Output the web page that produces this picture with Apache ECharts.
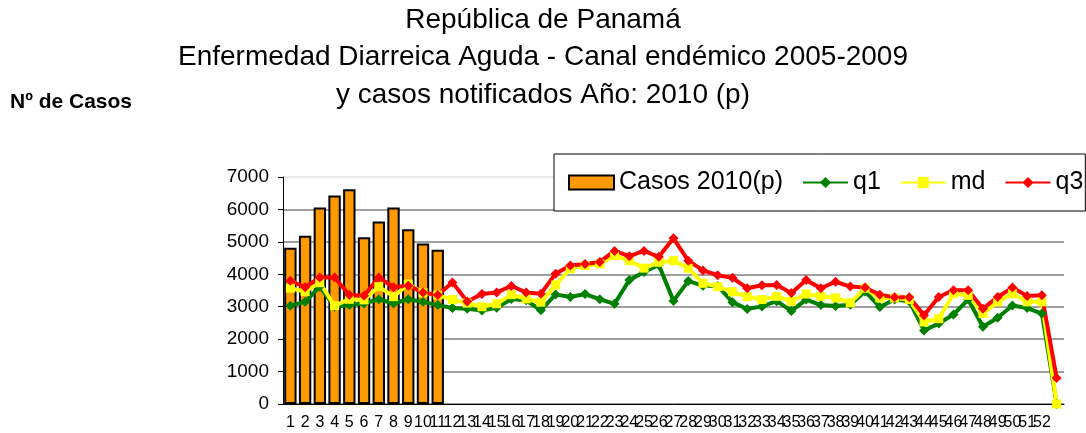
<!DOCTYPE html>
<html>
<head>
<meta charset="utf-8">
<script src="https://cdn.jsdelivr.net/npm/echarts@6/dist/echarts.min.js"></script>
<style>
  html, body { margin: 0; padding: 0; background: #fff; }
  #chart { width: 1086px; height: 433px; }
</style>
</head>
<body>
<div id="chart"></div>
<script>
// Epidemiological weeks (last slot has no label)
const weeks = ['1','2','3','4','5','6','7','8','9','10','11','12','13','14','15','16','17','18','19','20',
  '21','22','23','24','25','26','27','28','29','30','31','32','33','34','35','36','37','38','39','40',
  '41','42','43','44','45','46','47','48','49','50','51','52',''];

// Cases reported in 2010 (provisional), weeks 1-11
const casos2010 = [4820, 5190, 6060, 6430, 6620, 5140, 5630, 6060, 5390, 4950, 4760];

// Endemic channel 2005-2009
const q1 = [3030, 3150, 3620, 3000, 3050, 3100, 3230, 3100, 3230, 3150, 3050, 2960, 2940, 2880, 2970, 3240, 3200, 2890, 3380, 3300,
  3390, 3230, 3090, 3820, 4070, 4290, 3180, 3790, 3650, 3640, 3140, 2930, 3010, 3170, 2870, 3220, 3050, 3020, 3060, 3470,
  2990, 3220, 3170, 2270, 2480, 2760, 3220, 2380, 2660, 3040, 2960, 2790, 0];
const md = [3570, 3470, 3740, 3030, 3230, 3210, 3620, 3310, 3700, 3430, 3360, 3220, 3110, 3000, 3090, 3370, 3240, 3140, 3670, 4170,
  4270, 4320, 4580, 4420, 4190, 4370, 4420, 4190, 3720, 3620, 3460, 3310, 3220, 3320, 3170, 3390, 3320, 3270, 3120, 3570,
  3270, 3270, 3220, 2530, 2630, 3400, 3350, 2790, 3150, 3400, 3150, 3150, 0];
const q3 = [3800, 3600, 3900, 3900, 3360, 3340, 3900, 3600, 3650, 3440, 3360, 3750, 3160, 3390, 3440, 3640, 3440, 3400, 4020, 4270,
  4320, 4380, 4720, 4560, 4720, 4540, 5110, 4420, 4120, 3970, 3890, 3570, 3660, 3670, 3420, 3820, 3570, 3770, 3620, 3590,
  3370, 3290, 3290, 2740, 3300, 3510, 3510, 2940, 3300, 3590, 3330, 3350, 800];

const titleLines = [
  'República de Panamá',
  'Enfermedad Diarreica Aguda - Canal endémico 2005-2009',
  'y casos notificados Año: 2010 (p)'
];

const chart = echarts.init(document.getElementById('chart'));
const font = 'Liberation Sans, Arial, sans-serif';

const lineSeries = (name, data, color, symbol, size) => ({
  name: name,
  type: 'line',
  data: data,
  symbol: symbol,
  symbolSize: size,
  itemStyle: { color: color },
  lineStyle: { color: color, width: 4 }
});

// one title block per line so every line is centred
const titles = titleLines.map((t, i) => ({
  text: t,
  left: 'center',
  top: 6 + i * 37.5,
  padding: 0,
  textStyle: { fontFamily: font, fontSize: 28, fontWeight: 'normal', color: '#000' }
}));
titles.push({
  text: 'Nº de Casos',
  left: 10,
  top: 92,
  padding: 0,
  textStyle: { fontFamily: font, fontSize: 21, fontWeight: 'bold', color: '#000' }
});

chart.setOption({
  animation: false,
  textStyle: { fontFamily: font },
  title: titles,
  legend: {
    left: 554,
    top: 154,
    padding: [16, 2, 16, 14],
    itemGap: 19,
    itemWidth: 45,
    itemHeight: 14,
    backgroundColor: '#fff',
    borderColor: '#000',
    borderWidth: 1,
    textStyle: { fontFamily: font, fontSize: 25, color: '#000' },
    data: [{ name: 'Casos 2010(p)', icon: 'rect' }, 'q1', 'md', 'q3']
  },
  grid: { left: 283, right: 22, top: 177, bottom: 29 },
  xAxis: {
    type: 'category',
    data: weeks,
    boundaryGap: true,
    axisLine: { lineStyle: { color: '#000', width: 1 } },
    axisTick: { interval: 0, length: 5, lineStyle: { color: '#000' } },
    axisLabel: { interval: 0, fontSize: 16, color: '#000', margin: 11, hideOverlap: false }
  },
  yAxis: {
    type: 'value',
    min: 0,
    max: 7000,
    interval: 1000,
    axisLine: { show: true, lineStyle: { color: '#000', width: 1 } },
    axisTick: { show: true, length: 5, lineStyle: { color: '#000' } },
    axisLabel: { fontSize: 19, color: '#000', margin: 14, formatter: v => String(v) },
    splitLine: {
      lineStyle: {
        color: ['#808080', '#808080', '#808080', '#808080', '#808080', '#808080', '#808080', '#e0e0e0'],
        width: 1.5
      }
    }
  },
  series: [
    {
      name: 'Casos 2010(p)',
      type: 'bar',
      data: casos2010,
      barCategoryGap: '16%',
      itemStyle: { color: '#FF9900', borderColor: '#000', borderWidth: 2 }
    },
    lineSeries('q1', q1, '#008000', 'diamond', 10),
    lineSeries('md', md, '#FFFF00', 'rect', 9),
    lineSeries('q3', q3, '#FF0000', 'diamond', 10)
  ]
});
</script>
</body>
</html>
